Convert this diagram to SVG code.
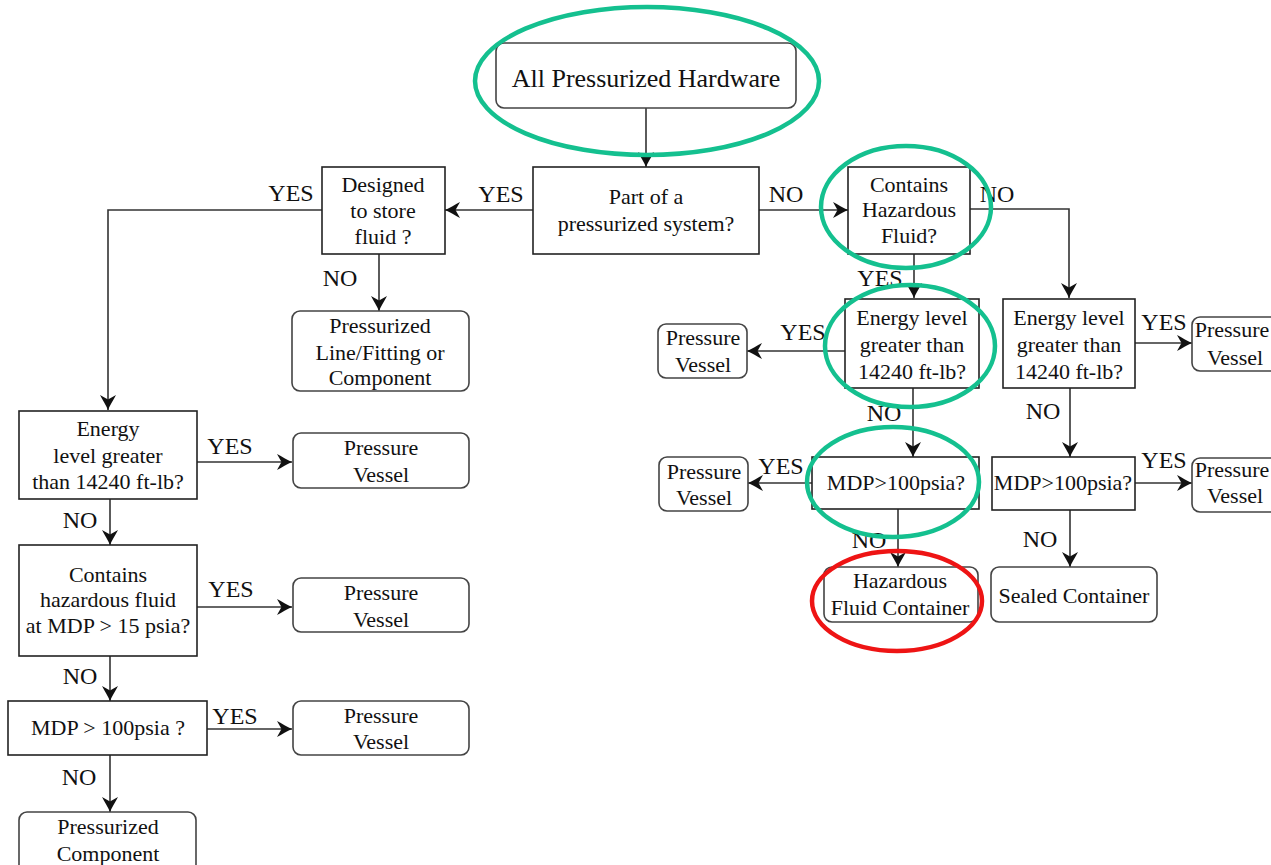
<svg xmlns="http://www.w3.org/2000/svg" width="1271" height="865" viewBox="0 0 1271 865">
<defs>
<marker id="arr" viewBox="-17 -9 18 18" refX="0" refY="0" markerWidth="18" markerHeight="18" orient="auto" markerUnits="userSpaceOnUse">
<path d="M0,0 C-5,-2 -10,-5.5 -15,-8 L-10.5,0 L-15,8 C-10,5.5 -5,2 0,0 Z" fill="#111"/>
</marker>
<style>
.dec{fill:#fff;stroke:#222;stroke-width:1.6}
.term{fill:#fff;stroke:#444;stroke-width:1.6}
.t{font-family:"Liberation Serif","Times New Roman",serif;font-size:22px;fill:#111;text-anchor:middle}
.ttl{font-size:26px}
.lbl{font-family:"Liberation Serif","Times New Roman",serif;font-size:24px;fill:#111;text-anchor:middle}
.c{fill:none;stroke:#333;stroke-width:1.6;marker-end:url(#arr)}
.g{fill:none;stroke:#14C08F;stroke-width:4.5}
.r{fill:none;stroke:#EE1414;stroke-width:4.5}
</style>
</defs>
<rect width="1271" height="865" fill="#fff"/>

<g id="connectors">
<path class="c" d="M646,108 V167"/>
<path class="c" d="M533,210 H445"/>
<path class="c" d="M759,210 H848"/>
<path class="c" d="M322,210 H108 V410"/>
<path class="c" d="M379,254 V311"/>
<path class="c" d="M197,462 H292"/>
<path class="c" d="M110,499 V545"/>
<path class="c" d="M197,607 H292"/>
<path class="c" d="M110,656 V701"/>
<path class="c" d="M207,729 H292"/>
<path class="c" d="M110,755 V812"/>
<path class="c" d="M970,209 H1069 V298"/>
<path class="c" d="M914,254 V298"/>
<path class="c" d="M845,351 H747"/>
<path class="c" d="M1135,343 H1192"/>
<path class="c" d="M913,388 V457"/>
<path class="c" d="M1070,388 V457"/>
<path class="c" d="M812,483 H748"/>
<path class="c" d="M1135,483 H1192"/>
<path class="c" d="M898,509 V567"/>
<path class="c" d="M1070,510 V567"/>
<g id="edge-labels">
<text class="lbl" x="501" y="202">YES</text>
<text class="lbl" x="786" y="202">NO</text>
<text class="lbl" x="291" y="201">YES</text>
<text class="lbl" x="340" y="286">NO</text>
<text class="lbl" x="230" y="454">YES</text>
<text class="lbl" x="80" y="528">NO</text>
<text class="lbl" x="231" y="597">YES</text>
<text class="lbl" x="80" y="684">NO</text>
<text class="lbl" x="235" y="724">YES</text>
<text class="lbl" x="79" y="785">NO</text>
<text class="lbl" x="997" y="202">NO</text>
<text class="lbl" x="880" y="286">YES</text>
<text class="lbl" x="803" y="340">YES</text>
<text class="lbl" x="1164" y="330">YES</text>
<text class="lbl" x="884" y="421">NO</text>
<text class="lbl" x="1043" y="419">NO</text>
<text class="lbl" x="781" y="474">YES</text>
<text class="lbl" x="1164" y="468">YES</text>
<text class="lbl" x="869" y="548">NO</text>
<text class="lbl" x="1040" y="547">NO</text>
</g>
</g>

<g id="n-all"><rect class="term" x="496" y="43" width="300" height="65" rx="8"/><text class="t ttl" x="646" y="87">All Pressurized Hardware</text></g>
<g id="n-part"><rect class="dec" x="533" y="167" width="226" height="87"/><text class="t" x="646" y="204">Part of a</text><text class="t" x="646" y="231">pressurized system?</text></g>
<g id="n-designed"><rect class="dec" x="322" y="167" width="123" height="87"/><text class="t" x="383" y="192">Designed</text><text class="t" x="383" y="218">to store</text><text class="t" x="383" y="244">fluid ?</text></g>
<g id="n-line"><rect class="term" x="292" y="311" width="177" height="80" rx="8"/><text class="t" x="380" y="333">Pressurized</text><text class="t" x="380" y="360">Line/Fitting or</text><text class="t" x="380" y="385">Component</text></g>
<g id="n-energy-l"><rect class="dec" x="19" y="411" width="178" height="88"/><text class="t" x="108" y="436">Energy</text><text class="t" x="108" y="463">level greater</text><text class="t" x="108" y="489">than 14240 ft-lb?</text></g>
<g id="n-pv1"><rect class="term" x="293" y="433" width="176" height="55" rx="8"/><text class="t" x="381" y="455">Pressure</text><text class="t" x="381" y="482">Vessel</text></g>
<g id="n-contains-l"><rect class="dec" x="19" y="545" width="178" height="111"/><text class="t" x="108" y="582">Contains</text><text class="t" x="108" y="607">hazardous fluid</text><text class="t" x="108" y="633">at MDP &gt; 15 psia?</text></g>
<g id="n-pv2"><rect class="term" x="293" y="578" width="176" height="54" rx="8"/><text class="t" x="381" y="600">Pressure</text><text class="t" x="381" y="627">Vessel</text></g>
<g id="n-mdp-l"><rect class="dec" x="8" y="701" width="199" height="54"/><text class="t" x="108" y="735">MDP &gt; 100psia ?</text></g>
<g id="n-pv3"><rect class="term" x="293" y="701" width="176" height="54" rx="8"/><text class="t" x="381" y="723">Pressure</text><text class="t" x="381" y="749">Vessel</text></g>
<g id="n-pcomp"><rect class="term" x="19" y="812" width="177" height="62" rx="8"/><text class="t" x="108" y="834">Pressurized</text><text class="t" x="108" y="861">Component</text></g>

<g id="n-contains-r"><rect class="dec" x="848" y="167" width="122" height="87"/><text class="t" x="909" y="192">Contains</text><text class="t" x="909" y="217">Hazardous</text><text class="t" x="909" y="243">Fluid?</text></g>
<g id="n-energy-m"><rect class="dec" x="845" y="299" width="134" height="89"/><text class="t" x="912" y="325">Energy level</text><text class="t" x="912" y="352">greater than</text><text class="t" x="912" y="379">14240 ft-lb?</text></g>
<g id="n-pv4"><rect class="term" x="658" y="324" width="89" height="54" rx="8"/><text class="t" x="703" y="345">Pressure</text><text class="t" x="703" y="372">Vessel</text></g>
<g id="n-energy-r"><rect class="dec" x="1003" y="299" width="132" height="89"/><text class="t" x="1069" y="325">Energy level</text><text class="t" x="1069" y="352">greater than</text><text class="t" x="1069" y="379">14240 ft-lb?</text></g>
<g id="n-pv5"><rect class="term" x="1192" y="317" width="88" height="54" rx="8"/><text class="t" x="1232" y="337">Pressure</text><text class="t" x="1235" y="365">Vessel</text></g>
<g id="n-mdp-m"><rect class="dec" x="812" y="457" width="167" height="52"/><text class="t" x="896" y="490">MDP&gt;100psia?</text></g>
<g id="n-pv6"><rect class="term" x="659" y="457" width="89" height="54" rx="8"/><text class="t" x="704" y="479">Pressure</text><text class="t" x="704" y="505">Vessel</text></g>
<g id="n-mdp-r"><rect class="dec" x="992" y="457" width="143" height="53"/><text class="t" x="1063" y="490">MDP&gt;100psia?</text></g>
<g id="n-pv7"><rect class="term" x="1192" y="458" width="88" height="54" rx="8"/><text class="t" x="1232" y="477">Pressure</text><text class="t" x="1235" y="503">Vessel</text></g>
<g id="n-hfc"><rect class="term" x="824" y="567" width="154" height="55" rx="8"/><text class="t" x="900" y="588">Hazardous</text><text class="t" x="900" y="615">Fluid Container</text></g>
<g id="n-sealed"><rect class="term" x="991" y="567" width="166" height="55" rx="8"/><text class="t" x="1074" y="603">Sealed Container</text></g>

<g id="highlights">
<ellipse class="g" cx="647" cy="81" rx="172" ry="74"/>
<ellipse class="g" cx="906" cy="207" rx="85" ry="61"/>
<ellipse class="g" cx="910" cy="346" rx="85" ry="61"/>
<ellipse class="g" cx="893" cy="482" rx="86" ry="55"/>
<ellipse class="r" cx="897" cy="601" rx="85" ry="50"/>
</g>
</svg>
